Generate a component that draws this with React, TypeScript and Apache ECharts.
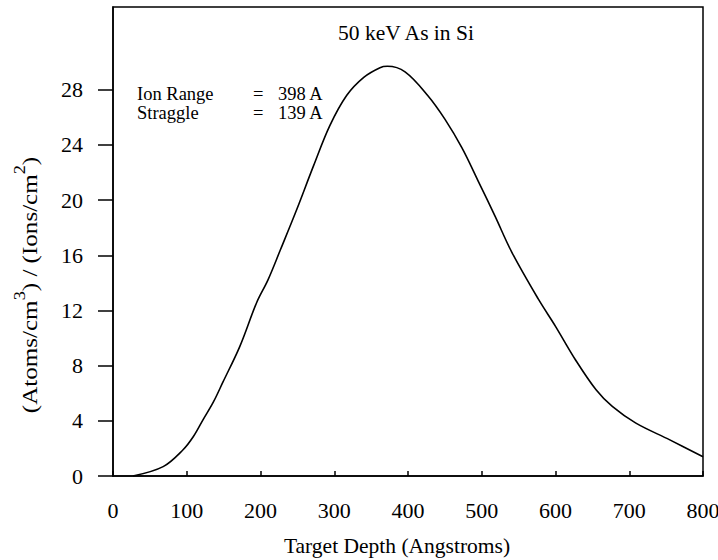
import React, { useEffect, useRef } from "react";
import * as echarts from "echarts";

const depths = [27, 68, 95, 109, 122, 136, 149, 172, 195, 210, 227, 249, 272, 294, 317, 340, 362, 372, 396, 427, 450, 473, 495, 518, 541, 577, 600, 627, 655, 677, 709, 755, 800];
const concentration = [0, 0.68, 1.9, 2.86, 4.07, 5.35, 6.8, 9.4, 12.6, 14.2, 16.4, 19.3, 22.5, 25.4, 27.6, 28.9, 29.6, 29.7, 29.3, 27.57, 25.87, 23.8, 21.4, 18.84, 16.2, 12.8, 10.85, 8.43, 6.25, 5.04, 3.83, 2.62, 1.4];
const yTickValues = [0, 4, 8, 12, 16, 20, 24, 28];
const xTickValues = [0, 100, 200, 300, 400, 500, 600, 700, 800];
const titleText = "50 keV As in Si";
const infoLabels = ["Ion Range", "Straggle"];
const infoValues = ["398 A", "139 A"];

const FONT = "'Liberation Serif', 'Times New Roman', serif";

export default function App() {
  const ref = useRef<HTMLDivElement>(null);
  useEffect(() => {
    if (!ref.current) return;
    const chart = echarts.init(ref.current, null, { renderer: "svg" });
    const data = depths.map((d, i) => [d, concentration[i]]);
    const infoGraphics: any[] = [];
    infoLabels.forEach((lab, i) => {
      const y = 94 + i * 18.8;
      const st = { font: `18.5px ${FONT}`, fill: "#000", verticalAlign: "middle" };
      infoGraphics.push({ type: "text", x: 137, y, style: { ...st, text: lab } });
      infoGraphics.push({ type: "text", x: 253, y, style: { ...st, text: "=" } });
      infoGraphics.push({ type: "text", x: 278, y, style: { ...st, text: infoValues[i] } });
    });
    chart.setOption({
      animation: false,
      backgroundColor: "#fff",
      grid: {
        left: 113,
        right: 15,
        top: 7,
        bottom: 84,
        outerBoundsMode: "none",
        containLabel: false,
        show: true,
        borderColor: "#000",
        borderWidth: 1.5,
        backgroundColor: "transparent",
      },
      xAxis: {
        type: "value",
        min: 0,
        max: 800,
        interval: 100,
        axisLine: { show: true, lineStyle: { color: "#000", width: 1.5 } },
        axisTick: { show: true, inside: true, length: 5, lineStyle: { color: "#000", width: 1.5 }, customValues: xTickValues },
        axisLabel: { margin: 23, fontSize: 22, fontFamily: FONT, color: "#000", customValues: xTickValues, hideOverlap: false },
        splitLine: { show: false },
      },
      yAxis: {
        type: "value",
        min: 0,
        max: 34,
        interval: 4,
        axisLine: { show: true, lineStyle: { color: "#000", width: 1.5 } },
        axisTick: { show: true, inside: false, length: 15, lineStyle: { color: "#000", width: 1.5 }, customValues: yTickValues },
        axisLabel: {
          margin: 30,
          fontSize: 22,
          fontFamily: FONT,
          color: "#000",
          customValues: yTickValues,
          formatter: (v: number) => (v > 28 ? "" : String(v)),
        },
        splitLine: { show: false },
      },
      graphic: [
        {
          type: "text",
          x: 406,
          y: 33,
          style: { text: titleText, font: `21.5px ${FONT}`, fill: "#000", align: "center", verticalAlign: "middle" },
        },
        ...infoGraphics,
        {
          type: "text",
          x: 397,
          y: 546,
          style: { text: "Target Depth (Angstroms)", font: `21.5px ${FONT}`, fill: "#000", align: "center", verticalAlign: "middle" },
        },
        {
          type: "text",
          x: 26,
          y: 285,
          rotation: Math.PI / 2,
          scaleX: 1.14,
          style: {
            text: "{m|(Atoms/cm}{s|3}{m|) / (Ions/cm}{s|2}{m|)}",
            align: "center",
            verticalAlign: "middle",
            fill: "#000",
            rich: {
              m: { fontSize: 22, fontFamily: FONT, lineHeight: 22, verticalAlign: "bottom", fill: "#000" },
              s: { fontSize: 16, fontFamily: FONT, lineHeight: 29, verticalAlign: "top", fill: "#000" },
            },
          },
        },
      ],
      series: [
        {
          type: "line",
          data,
          smooth: 0.35,
          showSymbol: false,
          symbol: "none",
          lineStyle: { color: "#000", width: 1.6 },
        },
      ],
    });
    return () => chart.dispose();
  }, []);
  return <div ref={ref} style={{ width: 718, height: 560, position: "absolute", left: 0, top: 0 }} />;
}
